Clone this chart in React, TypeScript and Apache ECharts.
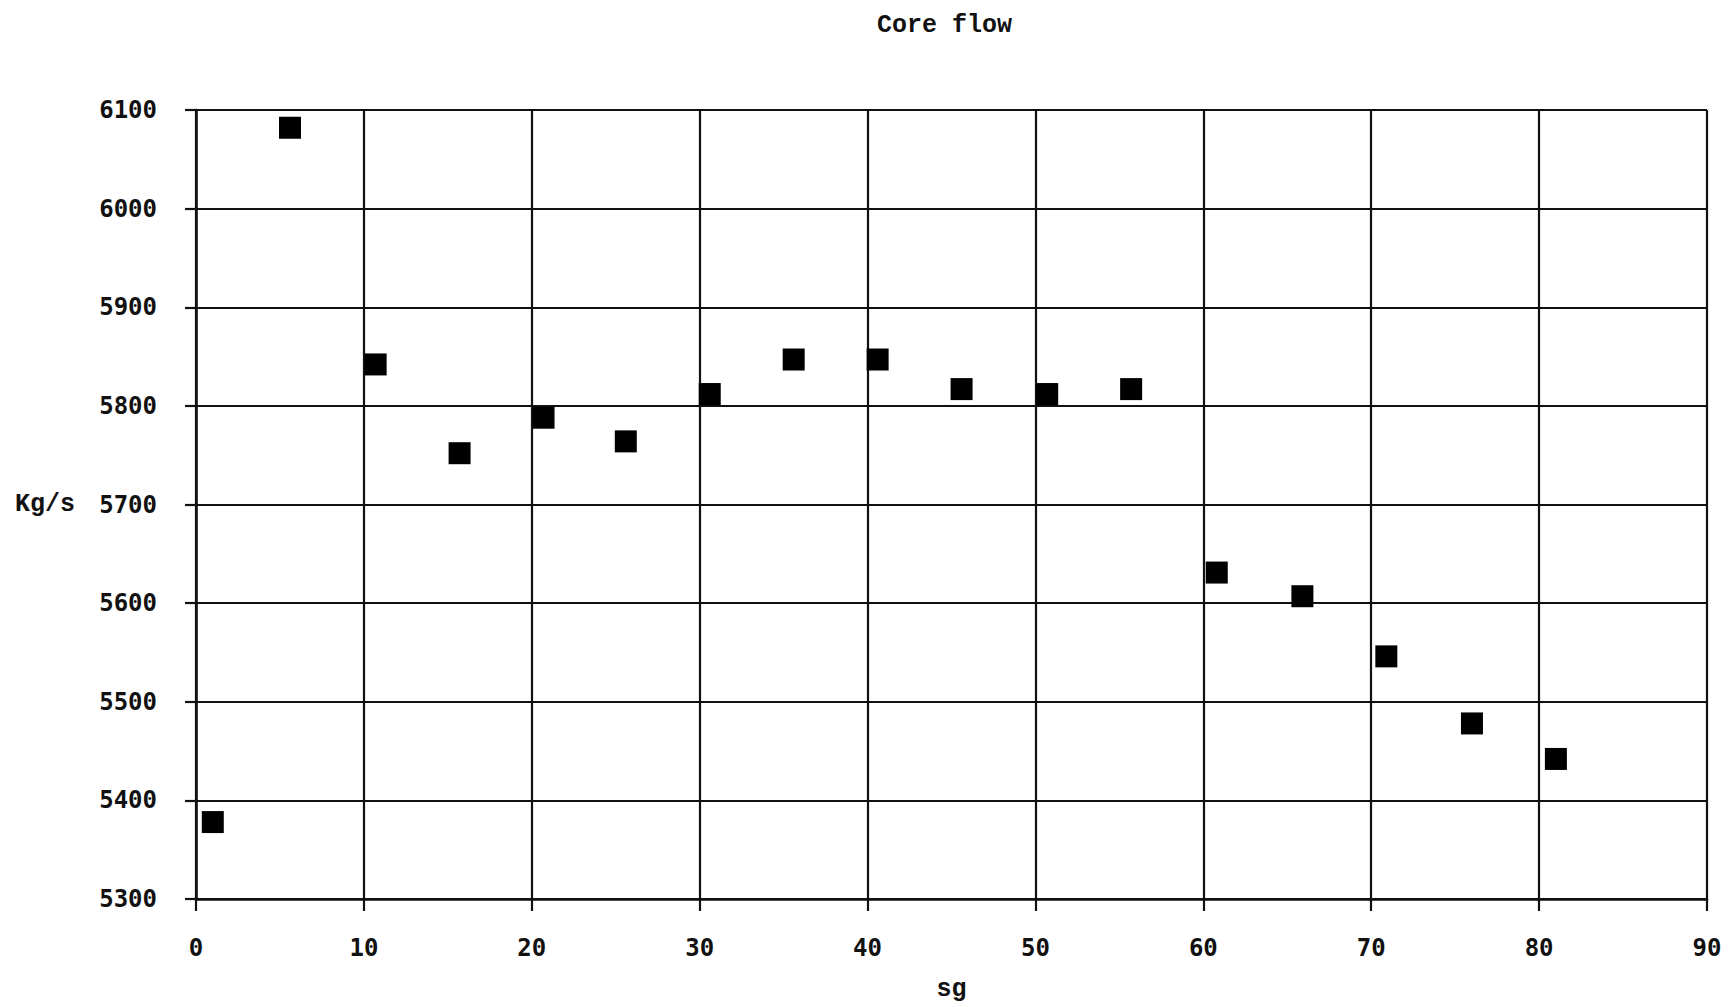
import React, { useEffect, useRef } from "react";
import * as echarts from "echarts";

const titleText = "Core flow";
const xName = "sg";
const yName = "Kg/s";
const xValues = [1, 5.6, 10.7, 15.7, 20.7, 25.6, 30.6, 35.6, 40.6, 45.6, 50.7, 55.7, 60.8, 65.9, 70.9, 76, 81];
const yValues = [5378, 6082, 5842, 5752, 5788, 5764, 5812, 5847, 5847, 5817, 5812, 5817, 5631, 5607, 5546, 5478, 5442];
const xRange = [0, 90, 10];
const yRange = [5300, 6100, 100];

export default function App() {
  const ref = useRef<HTMLDivElement>(null);
  useEffect(() => {
    if (!ref.current) return;
    const chart = echarts.init(ref.current, null, { renderer: "svg" });
    const lineStyle = { color: "#111", width: 2.2 };
    const labelFont = {
      color: "#111",
      fontFamily: "DejaVu Sans Mono",
      fontWeight: "bold" as const,
      fontSize: 24,
    };
    const nameFont = {
      color: "#111",
      fontFamily: "Liberation Mono",
      fontWeight: "bold" as const,
      fontSize: 25,
    };
    chart.setOption({
      animation: false,
      backgroundColor: "#fff",
      title: {
        text: titleText,
        left: 872,
        top: 8,
        textStyle: nameFont,
      },
      grid: { left: 196, right: 21, top: 110, bottom: 103 },
      xAxis: {
        type: "value",
        min: xRange[0],
        max: xRange[1],
        interval: xRange[2],
        name: xName,
        nameLocation: "middle",
        nameGap: 78,
        nameTextStyle: nameFont,
        axisLine: { show: true, onZero: false, lineStyle: { color: "#111", width: 2.6 } },
        axisTick: { show: true, length: 12, lineStyle },
        axisLabel: { ...labelFont, margin: 37, formatter: (v: number) => String(v) },
        splitLine: { show: true, lineStyle },
      },
      yAxis: {
        type: "value",
        min: yRange[0],
        max: yRange[1],
        interval: yRange[2],
        name: yName,
        nameLocation: "middle",
        nameRotate: 0,
        nameGap: 121,
        nameTextStyle: nameFont,
        axisLine: { show: true, onZero: false, lineStyle: { color: "#111", width: 2.6 } },
        axisTick: { show: true, length: 11, lineStyle },
        axisLabel: { ...labelFont, margin: 39, formatter: (v: number) => String(v) },
        splitLine: { show: true, lineStyle },
      },
      series: [
        {
          type: "scatter",
          symbol: "rect",
          symbolSize: 22,
          itemStyle: { color: "#000", opacity: 1 },
          data: xValues.map((x, i) => [x, yValues[i]]),
        },
      ],
    });
    return () => chart.dispose();
  }, []);
  return (
    <div
      ref={ref}
      style={{ position: "fixed", left: 0, top: 0, width: 1728, height: 1007 }}
    />
  );
}
